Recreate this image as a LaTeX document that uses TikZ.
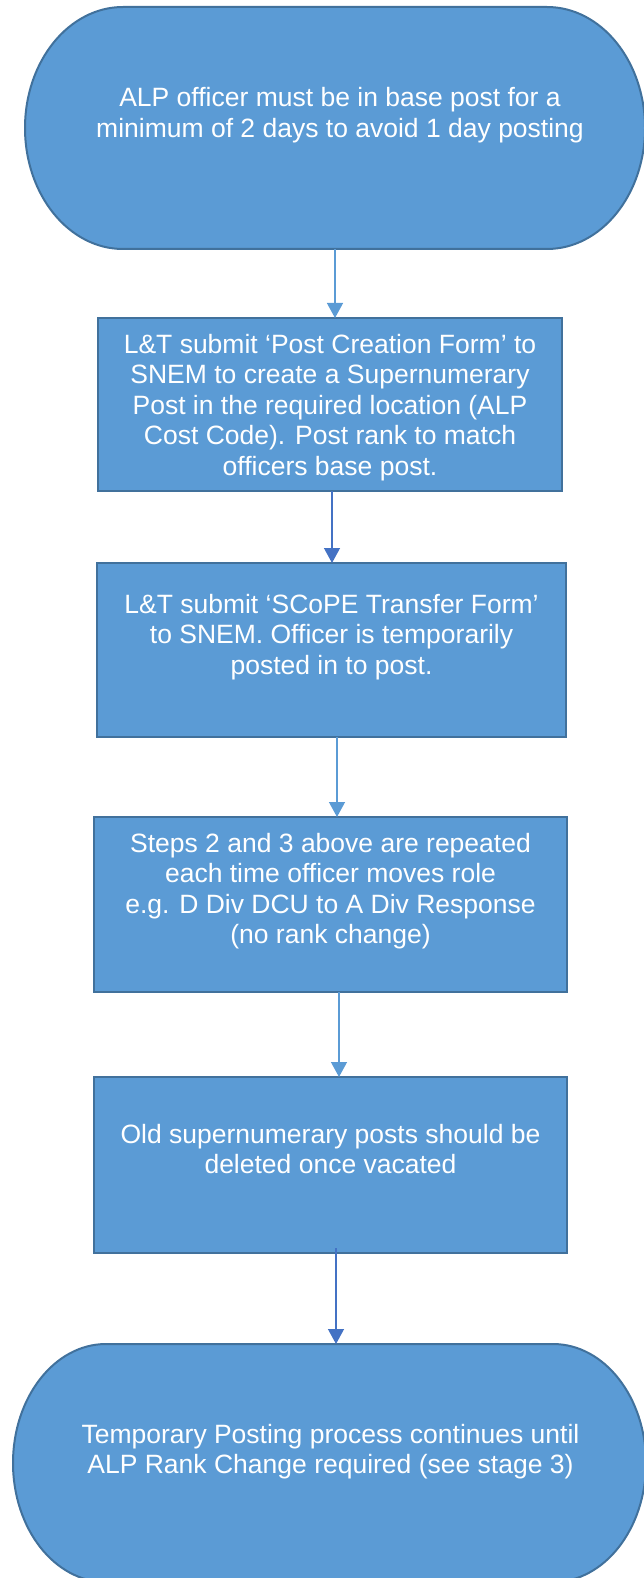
\documentclass[tikz,border=0pt]{standalone}
\usepackage{fontspec}
\setmainfont{Liberation Sans}
\usetikzlibrary{arrows.meta,backgrounds,calc}
\definecolor{boxfill}{HTML}{5B9BD5}
\definecolor{boxline}{HTML}{41719C}
\definecolor{arrlight}{HTML}{5B9BD5}
\definecolor{arrdark}{HTML}{4472C4}
% width, height, first-baseline offset from top, doubled right shift, text
\newcommand\flowtext[5]{\parbox[c][#2pt][t]{#1pt}{\fontsize{26.5pt}{30.6pt}\selectfont\centering\advance\leftskip by #4pt\relax\vspace*{\dimexpr#3pt-21.42pt\relax}\strut#5}}
% node name, x radius, y radius
\newcommand\termoutline[3]{\path[termshape] ($(#1.north west)+(#2pt,0pt)$) -- ($(#1.north east)+(-#2pt,0pt)$) arc[start angle=90,end angle=-90,x radius=#2pt,y radius=#3pt] -- ($(#1.south west)+(#2pt,0pt)$) arc[start angle=270,end angle=90,x radius=#2pt,y radius=#3pt] -- cycle;}
\tikzset{
  stepbox/.style={draw=boxline, fill=boxfill, line width=2pt, inner sep=0pt, outer sep=0pt, text=white},
  termbox/.style={inner sep=0pt, outer sep=0pt, text=white},
  termshape/.style={draw=boxline, fill=boxfill, line width=2pt},
  flowarrow/.style={draw=arrlight, line width=1.3pt, -{Triangle[width=16pt,length=15pt]}},
  flowarrowdark/.style={flowarrow, draw=arrdark},
}
\begin{document}
\begin{tikzpicture}[x=1pt,y=-1pt]
\useasboundingbox (0,0) rectangle (644,1578);
\node[termbox] (t1) at (335,128) {\flowtext{620}{242}{100}{10}{ALP officer must be in base post for a\\minimum of 2 days to avoid 1 day posting}};
\node[stepbox] (b1) at (330,404.5) {\flowtext{464}{173}{35}{0}{L\&T submit ‘Post Creation Form’ to\\SNEM to create a Supernumerary\\Post in the required location (ALP\\Cost Code). Post rank to match\\officers base post.}};
\node[stepbox] (b2) at (331.5,650) {\flowtext{469}{174}{50}{0}{L\&T submit ‘SCoPE Transfer Form’\\to SNEM. Officer is temporarily\\posted in to post.}};
\node[stepbox] (b3) at (330.5,904.5) {\flowtext{473}{175}{35}{0}{Steps 2 and 3 above are repeated\\each time officer moves role\\e.g. D Div DCU to A Div Response\\(no rank change)}};
\node[stepbox] (b4) at (330.5,1165) {\flowtext{473}{176}{66}{0}{Old supernumerary posts should be\\deleted once vacated}};
\node[termbox] (t2) at (329.5,1463) {\flowtext{633}{238}{99}{2}{Temporary Posting process continues until\\ALP Rank Change required (see stage 3)}};
\begin{pgfonlayer}{background}
  \termoutline{t1}{98}{121}
  \termoutline{t2}{93}{119}
\end{pgfonlayer}
\coordinate (c1) at (335,0);
\coordinate (c2) at (332,0);
\coordinate (c3) at (337,0);
\coordinate (c4) at (339,0);
\coordinate (c5) at (336,0);
\draw[flowarrow] (t1.south -| c1) -- (b1.north -| c1);
\draw[flowarrowdark] (b1.south -| c2) -- (b2.north -| c2);
\draw[flowarrow] (b2.south -| c3) -- (b3.north -| c3);
\draw[flowarrow] (b3.south -| c4) -- (b4.north -| c4);
\draw[flowarrowdark] ($(b4.south -| c5)+(0,-5)$) -- (t2.north -| c5);
\end{tikzpicture}
\end{document}
